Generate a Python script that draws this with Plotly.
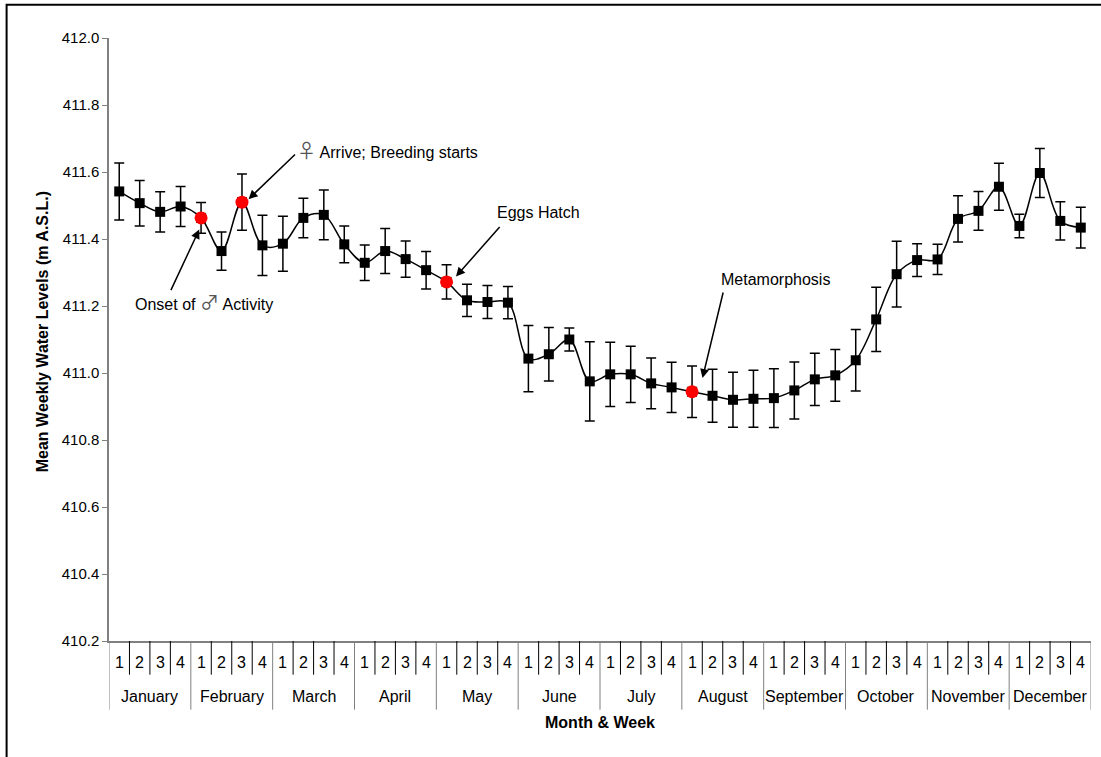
import plotly.graph_objects as go

# Weekly mean water level (m A.S.L.) and its error, four weeks per month
months = ["January", "February", "March", "April", "May", "June", "July",
          "August", "September", "October", "November", "December"]
weeks = ["1", "2", "3", "4"]

level = [411.542, 411.507, 411.481, 411.497,
         411.463, 411.364, 411.510, 411.381,
         411.386, 411.463, 411.472, 411.384,
         411.329, 411.364, 411.340, 411.307,
         411.272, 411.217, 411.212, 411.210,
         411.043, 411.056, 411.100, 410.975,
         410.996, 410.996, 410.969, 410.957,
         410.944, 410.932, 410.920, 410.923,
         410.925, 410.948, 410.981, 410.993,
         411.038, 411.160, 411.295, 411.337,
         411.339, 411.460, 411.484, 411.556,
         411.439, 411.597, 411.454, 411.434]

error = [0.085, 0.068, 0.060, 0.060,
         0.046, 0.057, 0.084, 0.090,
         0.082, 0.059, 0.074, 0.055,
         0.053, 0.067, 0.054, 0.056,
         0.051, 0.048, 0.049, 0.048,
         0.099, 0.080, 0.034, 0.118,
         0.096, 0.084, 0.076, 0.075,
         0.077, 0.079, 0.082, 0.085,
         0.088, 0.085, 0.078, 0.077,
         0.092, 0.096, 0.098, 0.049,
         0.045, 0.069, 0.058, 0.070,
         0.035, 0.073, 0.057, 0.061]

SYM = '<span style="font-family:Noto Sans CJK JP;font-size:19px;color:#555">{}</span>'
MALE = SYM.format("\u2642")
FEMALE = SYM.format("\u2640")

# Life-history events: (week index, label)
events = [(4, "Onset of " + MALE + " Activity"),
          (6, FEMALE + " Arrive; Breeding starts"),
          (16, "Eggs Hatch"),
          (28, "Metamorphosis")]

n = len(level)
xs = list(range(n))
event_idx = [e[0] for e in events]

FONT = "Liberation Sans, Arial, sans-serif"
GRAY = "#808080"
FS = 16

fig = go.Figure()

# Smoothed line with square markers and error bars
fig.add_trace(go.Scatter(
    x=xs, y=level, mode="lines+markers",
    line=dict(color="black", width=1.5, shape="spline", smoothing=1.0),
    marker=dict(symbol="square", size=10, color="black"),
    error_y=dict(type="data", array=error, visible=True,
                 color="black", thickness=1.5, width=5),
    showlegend=False, hoverinfo="skip"))

# Event weeks highlighted in red
fig.add_trace(go.Scatter(
    x=event_idx, y=[level[i] for i in event_idx], mode="markers",
    marker=dict(symbol="circle", size=13, color="#ff0000"),
    showlegend=False, hoverinfo="skip"))

# Plot-area geometry (pixels) used for the category band under the axis
W, H = 1101, 757
L, R, T, B = 108.5, 9.5, 38.3, 115.7
pw = W - L - R
ph = H - T - B


def px(pix):
    """pixel column -> paper x"""
    return (pix - L) / pw


def py(pix):
    """pixel row -> paper y"""
    return (H - B - pix) / ph


shapes = []
annotations = []

# Week separators and month dividers below the axis
for k in range(n + 1):
    xb = k - 0.5
    is_month = (k % 4 == 0)
    shapes.append(dict(type="line", xref="x", yref="paper",
                       x0=xb, x1=xb, y0=0, y1=py(710 if is_month else 675),
                       line=dict(color=GRAY if is_month else "black", width=1)))

for k in range(n):
    annotations.append(dict(x=k, y=py(663), xref="x", yref="paper",
                            yanchor="middle", text=weeks[k % 4],
                            showarrow=False,
                            font=dict(family=FONT, size=FS, color="black")))

for m, name in enumerate(months):
    annotations.append(dict(x=m * 4 + 1.5, y=py(697), xref="x", yref="paper",
                            yanchor="middle", text=name, showarrow=False,
                            font=dict(family=FONT, size=FS, color="black")))

# Axis titles
annotations.append(dict(x=0.5, y=py(723), xref="paper", yref="paper",
                        yanchor="middle",
                        text="<b>Month &amp; Week</b>", showarrow=False,
                        font=dict(family=FONT, size=FS, color="black")))
annotations.append(dict(x=px(42), y=py(332), xref="paper", yref="paper",
                        xanchor="center", yanchor="middle", textangle=-90,
                        text="<b>Mean Weekly Water Levels (m A.S.L.)</b>",
                        showarrow=False,
                        font=dict(family=FONT, size=FS, color="black")))

# Event labels and their arrows
label_pos = [(4.15, 411.213), (13.09, 411.666), (20.47, 411.479), (32.1, 411.279)]
arrow_head = [(3.91, 411.428), (6.32, 411.519), (16.46, 411.288), (28.51, 410.985)]
arrow_tail = [(-29, 62), (48, -46), (45, -51), (21, -87)]

for (lx, ly), (hx, hy), (ax, ay), (_, txt) in zip(label_pos, arrow_head,
                                                  arrow_tail, events):
    annotations.append(dict(x=lx, y=ly, xref="x", yref="y", text=txt,
                            showarrow=False,
                            font=dict(family=FONT, size=FS, color="black")))
    annotations.append(dict(x=hx, y=hy, xref="x", yref="y", text="",
                            showarrow=True, ax=ax, ay=ay,
                            arrowhead=2, arrowsize=1.2, arrowwidth=1.5,
                            arrowcolor="black"))

# Outer chart frame
shapes.append(dict(type="rect", xref="paper", yref="paper",
                   x0=px(6), x1=px(W + 10), y0=py(H + 10), y1=py(5),
                   line=dict(color="black", width=2)))

fig.update_layout(
    width=W, height=H,
    margin=dict(l=L, r=R, t=T, b=B),
    paper_bgcolor="white", plot_bgcolor="white",
    font=dict(family=FONT, size=FS, color="black"),
    shapes=shapes, annotations=annotations,
    xaxis=dict(range=[-0.5, n - 0.5], showticklabels=False, ticks="",
               showgrid=False, zeroline=False, showline=True,
               linecolor=GRAY, linewidth=1.5, mirror=False),
    yaxis=dict(range=[410.2, 412.0], dtick=0.2, tickformat=".1f",
               ticks="outside", ticklen=5, tickcolor=GRAY, tickwidth=1,
               showgrid=False, zeroline=False, showline=True,
               linecolor=GRAY, linewidth=1.5,
               tickfont=dict(family=FONT, size=15, color="black")),
)

fig.write_html("out.html")
